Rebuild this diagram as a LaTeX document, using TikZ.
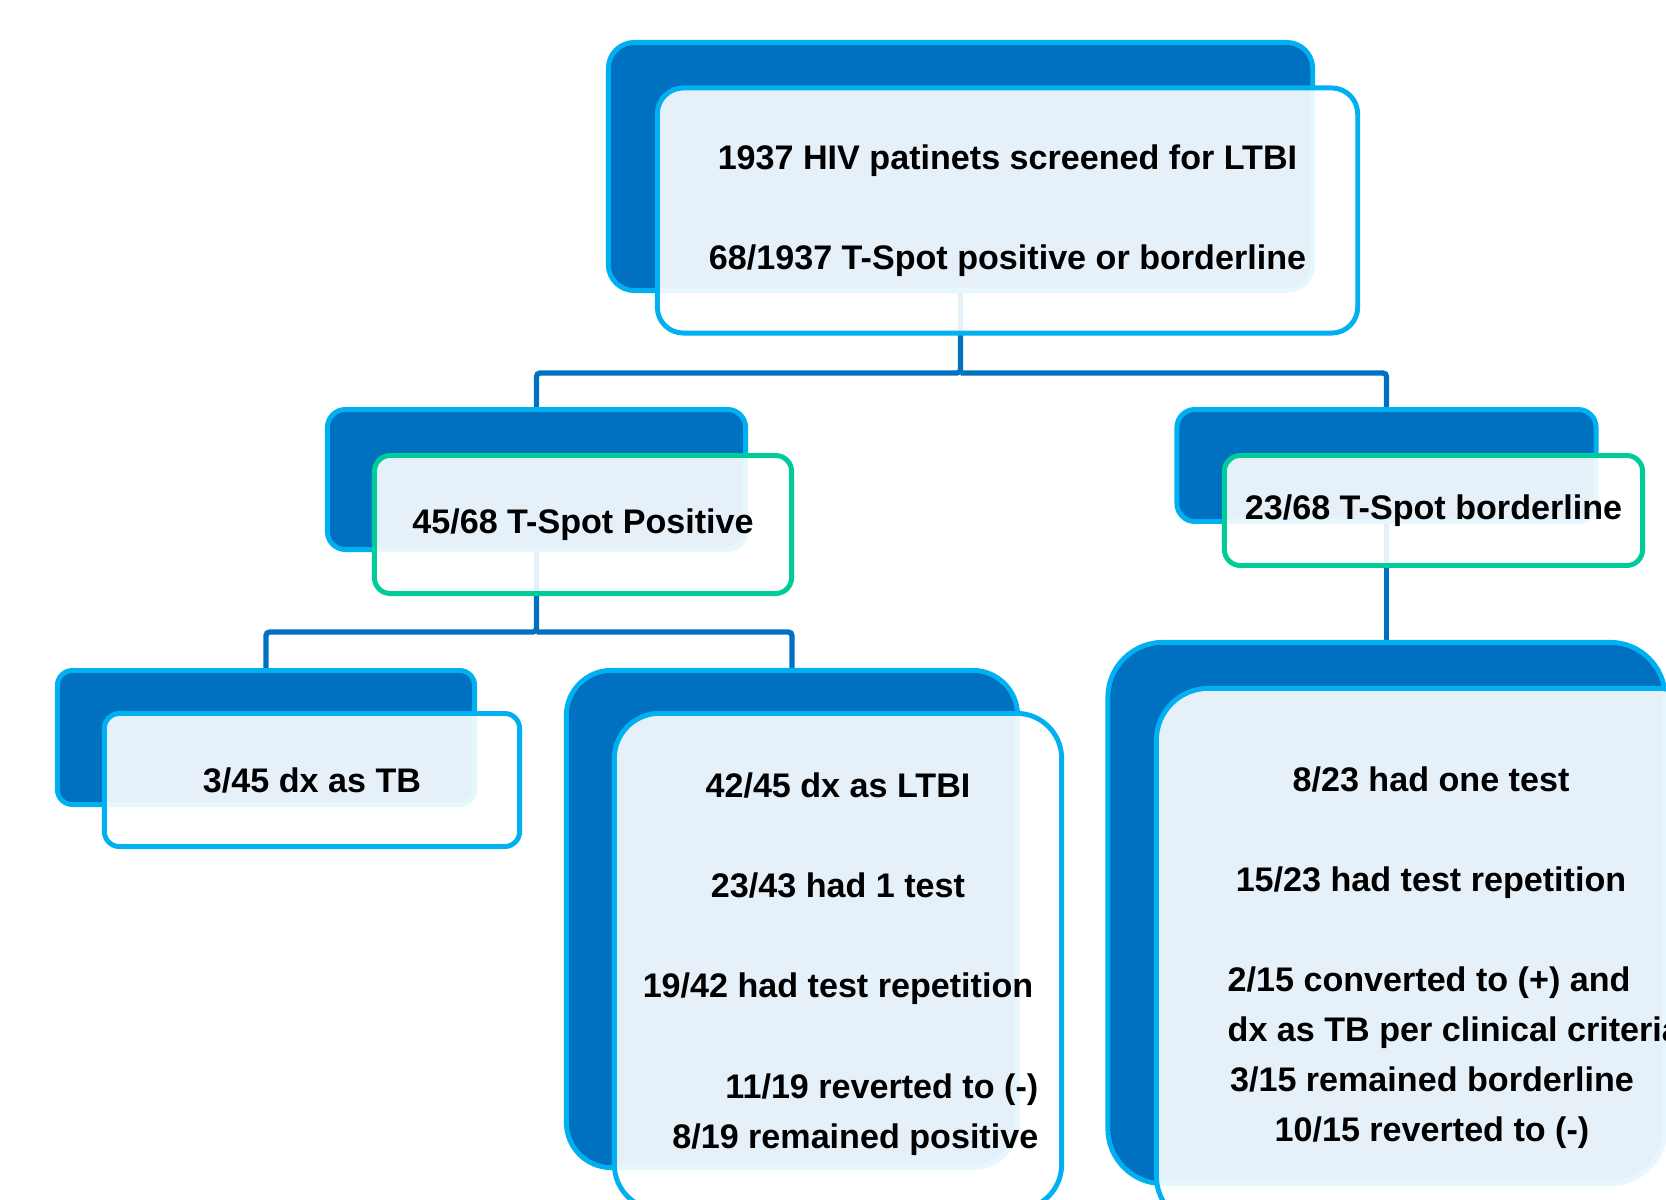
\documentclass[tikz,border=0pt]{standalone}
\usepackage{fontspec}
\setmainfont{Liberation Sans}
\usetikzlibrary{backgrounds}
\definecolor{cddark}{HTML}{0070C0}
\definecolor{cdedge}{HTML}{00B0F0}
\definecolor{cdgreen}{HTML}{00CC99}
\definecolor{cdline}{HTML}{0070C0}

\tikzset{
  backcard/.style={draw=cdedge, fill=cddark, line width=1.4pt, inner sep=0pt},
  frontcard/.style={draw=cdedge, fill=white, fill opacity=0.9, text opacity=1, line width=1.4pt, inner sep=0pt},
  cardtext/.style={font=\fontsize{9.7}{14.2}\selectfont\bfseries, align=center, inner sep=0pt},
  link/.style={draw=cdline, line width=1.5pt, rounded corners=1pt}
}

\begin{document}
\begin{tikzpicture}[x=0.01cm, y=-0.01cm]
                \useasboundingbox (0,0) rectangle (1666,1200);
                \clip (0,0) rectangle (1666,1200);

                % Screening card
                \node[backcard, rounded corners=0.26cm, minimum width=7.04cm, minimum height=2.48cm] (topB) at (960.5,166.5) {};
                \node[frontcard, cardtext, rounded corners=0.26cm, minimum width=7.00cm, minimum height=2.45cm] (topF) at (1007.5,210.5)
                  {1937 HIV patinets screened for LTBI\\[14.2pt]68/1937 T-Spot positive or borderline};

                % Positive card
                \node[backcard, rounded corners=0.18cm, minimum width=4.18cm, minimum height=1.40cm] (posB) at (536.5,479.5) {};
                \node[frontcard, cardtext, draw=cdgreen, rounded corners=0.16cm, minimum width=4.17cm, minimum height=1.38cm] (posF) at (583,524.5)
                  {45/68 T-Spot Positive};

                % Borderline card
                \node[backcard, rounded corners=0.18cm, minimum width=4.19cm, minimum height=1.12cm] (bordB) at (1386.5,465.5) {};
                \node[frontcard, cardtext, draw=cdgreen, rounded corners=0.16cm, minimum width=4.18cm, minimum height=1.10cm] (bordF) at (1433.5,510.5)
                  {23/68 T-Spot borderline};

                % TB card
                \node[backcard, rounded corners=0.15cm, minimum width=4.17cm, minimum height=1.34cm] (tbB) at (266,737.5) {};
                \node[frontcard, cardtext, rounded corners=0.15cm, minimum width=4.15cm, minimum height=1.33cm] (tbF) at (312,780)
                  {3/45 dx as TB};

                % LTBI card
                \node[backcard, rounded corners=0.45cm, minimum width=4.51cm, minimum height=4.97cm] (ltbiB) at (792,919) {};
                \node[frontcard, rounded corners=0.45cm, minimum width=4.47cm, minimum height=4.96cm] (ltbiF) at (838,961.5) {};
                \node[cardtext] (ltbiT) at (838,889)
                  {42/45 dx as LTBI\\[14.2pt]23/43 had 1 test\\[14.2pt]19/42 had test repetition};
                \node[cardtext, align=right, anchor=east] (ltbiR) at (1039,1114.5)
                  {11/19 reverted to (-)\\8/19 remained positive};

                % Repetition card
                \node[backcard, rounded corners=0.55cm, minimum width=5.57cm, minimum height=5.41cm] (resB) at (1386.5,913) {};
                \node[frontcard, rounded corners=0.52cm, minimum width=5.53cm, minimum height=5.39cm] (resF) at (1433,958) {};
                \node[cardtext] (resT) at (1431,832.5)
                  {8/23 had one test\\[14.2pt]15/23 had test repetition};
                \node[cardtext, align=left, anchor=west] (resL) at (1227,1008)
                  {2/15 converted to (+) and\\dx as TB per clinical criteria};
                \node[cardtext] (resC) at (1432,1107.5)
                  {3/15 remained borderline\\10/15 reverted to (-)};

                % Tree links
                \begin{scope}[on background layer]
                  \coordinate (topfork) at (topB.south |- 0,373);
                  \draw[link] (topB.south) -- (topfork) -| (posB.north);
                  \draw[link] (topfork) -| (bordB.north);
                  \coordinate (posfork) at (posB.south |- 0,632);
                  \draw[link] (posB.south) -- (posfork) -| (tbB.north);
                  \draw[link] (posfork) -| (ltbiB.north);
                  \draw[link] (bordB.south) -- (resB.north);
                \end{scope}
            \end{tikzpicture}
\end{document}
